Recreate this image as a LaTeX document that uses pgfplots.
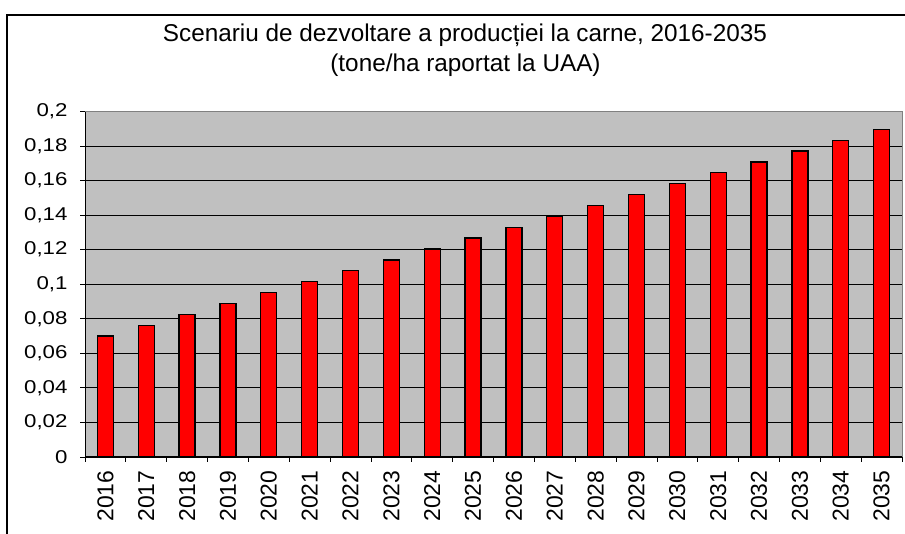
\documentclass[border=0pt]{standalone}
\usepackage{pgfplots}
\pgfplotsset{compat=1.18}
\usepackage{fontspec}
\setmainfont{Liberation Sans}
\newfontfamily\tickfont[FakeStretch=1.2]{Liberation Sans}
\definecolor{bggray}{RGB}{192,192,192}
\definecolor{edgegray}{RGB}{128,128,128}
\begin{document}
\begin{tikzpicture}[x=1bp,y=1bp]
\path[use as bounding box] (0,0) rectangle (905,534);
\draw[line width=1.4bp] (7,0) -- (7,519) -- (905,519);
\node[anchor=base, font=\fontsize{24.4}{26}\selectfont] at (465,492) {Scenariu de dezvoltare a producției la carne, 2016-2035};
\node[anchor=base, font=\fontsize{24.4}{26}\selectfont] at (465.5,462) {(tone/ha raportat la UAA)};
\begin{axis}[
  at={(85bp,77bp)}, anchor=south west,
  scale only axis, width=817bp, height=345.5bp,
  xmin=0.5, xmax=20.5, ymin=0, ymax=0.2,
  axis background/.style={fill=bggray},
  axis x line*=bottom, axis y line*=left,
  axis line style={black, line width=1bp},
  tick align=outside, major tick length=5bp,
  tick style={black, line width=0.8bp},
  xtick={0.5,1.5,...,20.5}, xticklabels={},
  xticklabel style={rotate=90, anchor=east, font=\fontsize{23}{25}\selectfont},
  extra x ticks={1,2,...,20},
  extra x tick labels={2016,2017,2018,2019,2020,2021,2022,2023,2024,2025,2026,2027,2028,2029,2030,2031,2032,2033,2034,2035},
  extra x tick style={major tick length=0pt, xticklabel style={xshift=-10bp}},
  ytick={0,0.02,...,0.2},
  scaled y ticks=false,
  /pgf/number format/fixed,
  /pgf/number format/precision=2,
  /pgf/number format/use comma,
  /pgf/number format/assume math mode=true,
  yticklabel style={font=\tickfont\fontsize{18.6}{20}\selectfont, xshift=-9bp},
  ymajorgrids, major grid style={black, line width=0.8bp},
  clip=false,
]
\addplot[ybar, bar width=16bp, fill=red, draw=black, line width=1.3bp] coordinates {
(1,0.0700) (2,0.0763) (3,0.0826) (4,0.0889) (5,0.0952) (6,0.1015) (7,0.1078) (8,0.1141) (9,0.1204) (10,0.1267)
(11,0.1330) (12,0.1393) (13,0.1456) (14,0.1519) (15,0.1582) (16,0.1645) (17,0.1708) (18,0.1771) (19,0.1834) (20,0.1897)};
\draw[edgegray, line width=1bp] (rel axis cs:0,1) -- (rel axis cs:1,1) -- (rel axis cs:1,0);
\end{axis}
\end{tikzpicture}
\end{document}
